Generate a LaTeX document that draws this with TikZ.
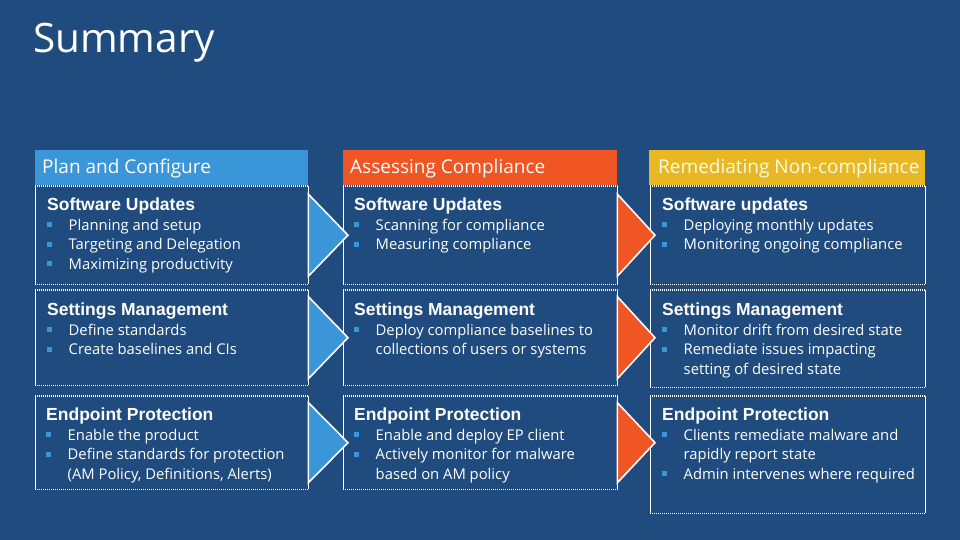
\documentclass[tikz,border=0pt]{standalone}
\usepackage{fontspec}
\setmainfont{Open Sans}
\newfontfamily\headfont{Liberation Sans}
\usetikzlibrary{calc}
\definecolor{bg}{RGB}{31,75,126}
\definecolor{hblue}{RGB}{58,150,216}
\definecolor{horange}{RGB}{240,86,36}
\definecolor{hyellow}{RGB}{232,184,36}
\definecolor{cream}{RGB}{255,250,228}
\newcommand{\bul}{\makebox[21.5pt][l]{\textcolor{hblue}{\rule[3pt]{5pt}{5pt}}}}
\newcommand{\cont}{\hspace*{21.5pt}}
\newcommand{\hd}[1]{\strut{\headfont\bfseries\fontsize{17.5}{19.5}\selectfont #1}}
\begin{document}
\begin{tikzpicture}[x=1pt,y=-1pt,
  hdrbox/.style={rectangle, inner sep=0, minimum width=273pt, minimum height=35pt, anchor=north west},
  hdrtext/.style={anchor=west, inner sep=0, font=\fontsize{19}{22}\selectfont},
  cellbox/.style={rectangle, inner sep=0, minimum width=273pt, anchor=north west},
  celltext/.style={anchor=north west, inner sep=0, align=left, text=white, font=\fontsize{14.8}{19.5}\selectfont},
  sideline/.style={white, line width=1pt},
  dotline/.style={white, line width=1.3pt, dash pattern=on 1pt off 1pt},
  chev/.style={draw=white, line width=1.6pt, line join=miter}
]
\fill[bg] (0,0) rectangle (960,540);
\useasboundingbox (0,0) rectangle (960,540);

\node[anchor=base west, inner sep=0, text=white, font=\fontsize{40.5}{46}\selectfont] (title) at (33,53) {Summary};

% headers
\node[hdrbox, fill=hblue] (h1) at (35,150) {};
\node[hdrbox, fill=horange, minimum width=274pt] (h2) at (343,150) {};
\node[hdrbox, fill=hyellow, minimum width=276pt] (h3) at (649,150) {};
\node[hdrtext, text=white] (h1t) at ($(h1.west)+(7,1)$) {Plan and Configure};
\node[hdrtext, text=white] (h2t) at ($(h2.west)+(7,1)$) {Assessing Compliance};
\node[hdrtext, text=cream] (h3t) at ($(h3.west)+(9,1)$) {Remediating Non-compliance};

% cell boxes
\node[cellbox, minimum height=98pt] (c11) at (35,186) {};
\node[cellbox, minimum height=98pt, minimum width=274pt] (c21) at (343,186) {};
\node[cellbox, minimum height=98pt, minimum width=275pt] (c31) at (650,186) {};
\node[cellbox, minimum height=95pt] (c12) at (35,290) {};
\node[cellbox, minimum height=95pt, minimum width=274pt] (c22) at (343,290) {};
\node[cellbox, minimum height=97pt, minimum width=275pt] (c32) at (650,290) {};
\node[cellbox, minimum height=93pt] (c13) at (35,396) {};
\node[cellbox, minimum height=93pt, minimum width=274pt] (c23) at (343,396) {};
\node[cellbox, minimum height=117pt, minimum width=275pt] (c33) at (650,396) {};

\foreach \n in {c11,c21,c31,c12,c22,c32,c13,c23,c33}{
  \draw[sideline] (\n.north west) -- (\n.south west) (\n.north east) -- (\n.south east);
  \draw[dotline] (\n.north west) -- (\n.north east) (\n.south west) -- (\n.south east);
}

% texts
\node[celltext] (t11) at ($(c11.north west)+(12,11)$) {\hd{Software Updates}\\
\bul Planning and setup\\
\bul Targeting and Delegation\\
\bul Maximizing productivity};
\node[celltext] (t21) at ($(c21.north west)+(11,11)$) {\hd{Software Updates}\\
\bul Scanning for compliance\\
\bul Measuring compliance};
\node[celltext] (t31) at ($(c31.north west)+(12,11)$) {\hd{Software updates}\\
\bul Deploying monthly updates\\
\bul Monitoring ongoing compliance};
\node[celltext] (t12) at ($(c12.north west)+(12,12)$) {\hd{Settings Management}\\
\bul Define standards\\
\bul Create baselines and CIs};
\node[celltext] (t22) at ($(c22.north west)+(11,12)$) {\hd{Settings Management}\\
\bul Deploy compliance baselines to\\
\cont collections of users or systems};
\node[celltext] (t32) at ($(c32.north west)+(12,12)$) {\hd{Settings Management}\\
\bul Monitor drift from desired state\\
\bul Remediate issues impacting\\
\cont setting of desired state};
\node[celltext] (t13) at ($(c13.north west)+(11,11)$) {\hd{Endpoint Protection}\\
\bul Enable the product\\
\bul Define standards for protection\\
\cont (AM Policy, Definitions, Alerts)};
\node[celltext] (t23) at ($(c23.north west)+(11,11)$) {\hd{Endpoint Protection}\\
\bul Enable and deploy EP client\\
\bul Actively monitor for malware\\
\cont based on AM policy};
\node[celltext] (t33) at ($(c33.north west)+(12,11)$) {\hd{Endpoint Protection}\\
\bul Clients remediate malware and\\
\cont rapidly report state\\
\bul Admin intervenes where required};

% chevrons
\draw[chev, fill=hblue] ($(c11.east)+(0,-41)$) -- ($(c21.west)+(5,0)$) -- ($(c11.east)+(0,41)$) -- cycle;
\draw[chev, fill=hblue] ($(c12.east)+(0,-41)$) -- ($(c22.west)+(5,0)$) -- ($(c12.east)+(0,41)$) -- cycle;
\draw[chev, fill=hblue] ($(c13.east)+(0,-40)$) -- ($(c23.west)+(5,0)$) -- ($(c13.east)+(0,40)$) -- cycle;
\draw[chev, fill=horange] ($(c21.east)+(0,-41)$) -- ($(c31.west |- c21.east)+(5,0)$) -- ($(c21.east)+(0,41)$) -- cycle;
\draw[chev, fill=horange] ($(c22.east)+(0,-41)$) -- ($(c32.west |- c22.east)+(5,0)$) -- ($(c22.east)+(0,41)$) -- cycle;
\draw[chev, fill=horange] ($(c23.east)+(0,-40)$) -- ($(c33.west |- c23.east)+(5,0)$) -- ($(c23.east)+(0,40)$) -- cycle;
\end{tikzpicture}
\end{document}
